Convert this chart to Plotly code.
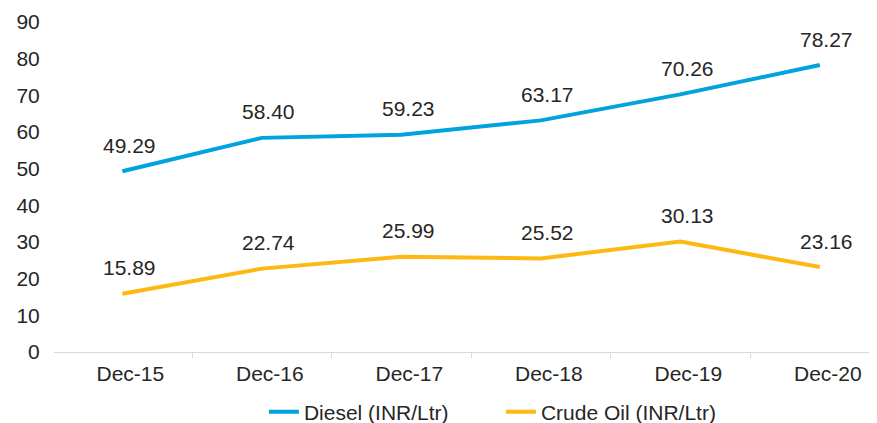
import plotly.graph_objects as go

categories = ["Dec-15", "Dec-16", "Dec-17", "Dec-18", "Dec-19", "Dec-20"]
diesel = [49.29, 58.40, 59.23, 63.17, 70.26, 78.27]
crude = [15.89, 22.74, 25.99, 25.52, 30.13, 23.16]
y_ticks = [0, 10, 20, 30, 40, 50, 60, 70, 80, 90]

series = [
    ("Diesel (INR/Ltr)", diesel, "#00A3DD"),
    ("Crude Oil (INR/Ltr)", crude, "#FDB813"),
]

FONT = "Liberation Sans, Arial, Helvetica, sans-serif"
TXT = "#262626"
FS = 21

fig = go.Figure()
annotations = []
for name, vals, color in series:
    fig.add_trace(go.Scatter(
        x=categories, y=vals, name=name, mode="lines",
        line=dict(color=color, width=4),
    ))
    for c, v in zip(categories, vals):
        annotations.append(dict(
            x=c, y=v, text=f"{v:.2f}", showarrow=False,
            xshift=7, yshift=26, font=dict(family=FONT, size=FS, color=TXT),
        ))

fig.update_layout(
    width=869, height=415,
    margin=dict(l=46, r=0, t=14, b=71, autoexpand=False),
    paper_bgcolor="white", plot_bgcolor="white",
    font=dict(family=FONT, size=FS, color=TXT),
    annotations=annotations,
    showlegend=True,
    legend=dict(
        orientation="h",
        x=0.543, y=-0.182, xanchor="center", yanchor="middle",
        font=dict(family=FONT, size=FS, color=TXT),
        itemwidth=30, entrywidth=192, bgcolor="rgba(0,0,0,0)",
    ),
    xaxis=dict(
        type="category", range=[-0.49, 5.41], automargin=False,
        showline=True, linecolor="#D9D9D9", linewidth=1,
        ticks="outside", tickson="boundaries", ticklen=5, tickcolor="#D9D9D9",
        ticklabelstandoff=3, ticklabelshift=8,
        showgrid=False, zeroline=False,
        tickfont=dict(family=FONT, size=FS, color=TXT),
    ),
    yaxis=dict(
        range=[0, 90], tickvals=y_ticks, automargin=False,
        showline=False, showgrid=False, zeroline=False,
        ticks="outside", ticklen=9, tickcolor="rgba(0,0,0,0)",
        tickfont=dict(family=FONT, size=FS, color=TXT),
    ),
)

fig.write_html("out.html")
